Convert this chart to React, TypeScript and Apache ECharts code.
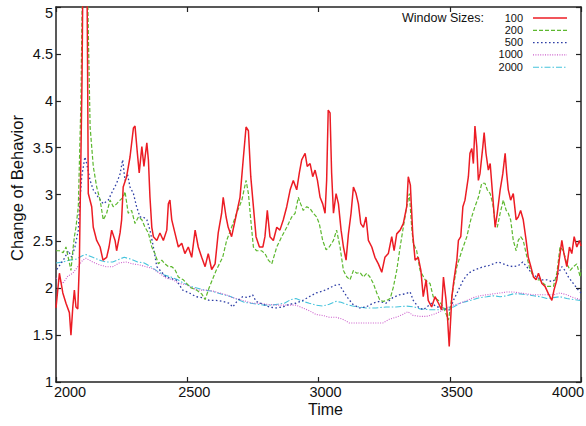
import React, { useEffect, useRef } from "react";
import * as echarts from "echarts";

const FONT = "'Liberation Sans', Arial, sans-serif";

const xTicks = [2000, 2500, 3000, 3500, 4000];
const yTicks = [1, 1.5, 2, 2.5, 3, 3.5, 4, 4.5, 5];
const windowSizes = ["100", "200", "500", "1000", "2000"];
const seriesColors = ["#ec1c24", "#5db82f", "#2e3fa6", "#cc5fcc", "#45c3dc"];

// Window size 100
const w100: [number, number][] = [
  [2000,1.79],[2013,2.16],[2026,1.95],[2038,1.84],[2051,1.74],[2057,1.50],[2064,1.80],[2070,1.98],[2076,1.80],[2083,1.78],
  [2089,2.27],[2099,4.2],[2107,6.8],[2114,6.8],[2120,4.5],[2123,3.01],[2136,2.87],[2142,2.65],[2155,2.51],[2168,2.44],
  [2179,2.30],[2193,2.33],[2202,2.44],[2212,2.62],[2225,2.51],[2231,2.40],[2244,2.59],[2250,2.73],[2256,3.08],[2269,3.19],
  [2282,3.40],[2295,3.71],[2301,3.73],[2310,3.44],[2317,3.23],[2327,3.51],[2335,3.30],[2346,3.55],[2352,3.37],[2358,2.97],
  [2365,2.65],[2371,2.55],[2384,2.51],[2396,2.59],[2409,2.51],[2422,2.62],[2428,2.90],[2434,2.94],[2441,2.73],[2453,2.59],
  [2466,2.44],[2479,2.48],[2491,2.37],[2504,2.44],[2517,2.33],[2530,2.62],[2542,2.44],[2555,2.33],[2568,2.23],[2580,2.37],
  [2593,2.20],[2606,2.26],[2618,2.59],[2631,2.80],[2637,2.97],[2648,2.76],[2656,2.65],[2669,2.55],[2688,2.80],[2701,2.97],
  [2714,3.40],[2724,3.72],[2733,3.68],[2742,3.19],[2752,2.87],[2762,2.55],[2775,2.44],[2788,2.44],[2796,2.55],[2805,2.83],
  [2815,2.55],[2828,2.51],[2841,2.65],[2853,2.62],[2866,2.73],[2879,2.87],[2892,3.05],[2904,3.15],[2917,3.05],[2927,3.23],
  [2936,3.37],[2949,3.44],[2957,3.30],[2968,3.33],[2978,3.19],[2987,3.26],[2996,3.15],[3006,2.97],[3016,2.90],[3025,2.80],
  [3031,3.15],[3037,3.90],[3044,3.87],[3050,3.23],[3057,2.80],[3067,3.01],[3076,2.90],[3086,2.62],[3095,2.44],[3105,2.30],
  [3114,2.58],[3124,2.80],[3133,3.08],[3143,3.01],[3152,2.90],[3161,2.69],[3171,2.65],[3181,2.76],[3190,2.51],[3203,2.44],
  [3215,2.33],[3228,2.26],[3241,2.17],[3253,2.33],[3266,2.37],[3279,2.55],[3288,2.40],[3298,2.58],[3311,2.62],[3323,2.69],
  [3336,2.87],[3342,3.19],[3350,3.10],[3359,2.58],[3368,2.30],[3380,2.33],[3390,2.19],[3399,1.91],[3410,2.09],[3418,1.87],
  [3431,1.80],[3444,1.91],[3457,1.84],[3469,1.77],[3476,2.12],[3486,1.87],[3492,1.66],[3498,1.38],[3508,1.91],[3516,2.09],
  [3527,2.30],[3533,2.51],[3542,2.55],[3550,2.87],[3558,2.94],[3571,3.19],[3577,3.44],[3584,3.49],[3590,3.33],[3596,3.73],
  [3603,3.51],[3609,3.15],[3615,3.22],[3626,3.51],[3631,3.66],[3638,3.44],[3647,3.26],[3654,3.33],[3664,2.97],[3673,2.65],
  [3681,2.80],[3692,3.05],[3702,3.22],[3711,3.44],[3717,3.22],[3723,3.05],[3732,2.94],[3742,3.01],[3753,2.73],[3761,2.76],
  [3770,2.83],[3780,2.73],[3791,2.51],[3799,2.33],[3809,2.23],[3819,2.12],[3829,2.09],[3838,2.16],[3851,2.05],[3863,2.02],
  [3876,1.94],[3889,1.87],[3897,1.98],[3908,2.09],[3917,2.30],[3927,2.51],[3935,2.37],[3946,2.23],[3956,2.44],[3965,2.37],
  [3974,2.55],[3984,2.44],[3994,2.51],[4000,2.45],
];

// Window size 200
const w200: [number, number][] = [
  [2000,2.40],[2013,2.40],[2027,2.38],[2038,2.44],[2051,2.27],[2057,2.19],[2064,2.40],[2070,2.55],[2076,2.65],[2085,2.87],
  [2095,4.0],[2102,5.6],[2110,6.5],[2118,5.6],[2124,4.6],[2130,3.72],[2142,3.30],[2155,3.08],[2168,2.94],[2180,2.73],
  [2193,2.80],[2206,2.94],[2218,2.87],[2231,2.90],[2244,2.94],[2256,2.97],[2263,3.03],[2275,2.80],[2288,2.83],[2301,2.69],
  [2314,2.76],[2327,2.73],[2339,2.65],[2352,2.59],[2365,2.44],[2377,2.37],[2390,2.26],[2403,2.30],[2415,2.26],[2428,2.23],
  [2441,2.23],[2453,2.20],[2466,2.12],[2485,2.09],[2511,2.01],[2536,1.98],[2555,1.94],[2568,1.88],[2584,2.01],[2610,2.19],
  [2635,2.33],[2650,2.51],[2669,2.65],[2688,2.80],[2708,2.94],[2724,3.15],[2733,3.01],[2742,2.73],[2752,2.44],[2764,2.40],
  [2783,2.40],[2796,2.37],[2809,2.30],[2822,2.26],[2841,2.44],[2860,2.55],[2879,2.65],[2898,2.76],[2911,2.80],[2923,2.97],
  [2932,2.90],[2942,2.83],[2955,2.87],[2968,2.85],[2980,2.80],[2993,2.76],[3003,2.69],[3016,2.51],[3029,2.41],[3041,2.44],
  [3057,2.51],[3069,2.62],[3082,2.44],[3095,2.19],[3108,2.12],[3120,2.09],[3133,2.19],[3146,2.16],[3158,2.17],[3171,2.12],
  [3184,2.16],[3196,2.12],[3209,2.05],[3222,1.95],[3234,1.87],[3247,1.86],[3260,1.87],[3273,1.89],[3285,2.01],[3298,2.19],
  [3311,2.44],[3323,2.65],[3336,2.87],[3346,3.01],[3355,2.65],[3361,2.48],[3374,2.40],[3387,2.19],[3406,2.09],[3425,2.05],
  [3437,1.91],[3457,1.87],[3476,1.80],[3495,1.66],[3501,1.77],[3514,2.02],[3527,2.23],[3546,2.40],[3565,2.55],[3580,2.73],
  [3596,2.87],[3609,2.97],[3622,3.12],[3634,3.12],[3643,3.05],[3654,3.01],[3664,2.90],[3673,2.69],[3681,2.65],[3692,2.80],
  [3704,2.94],[3715,2.83],[3723,2.80],[3732,2.73],[3742,2.51],[3753,2.40],[3761,2.51],[3770,2.55],[3780,2.51],[3791,2.37],
  [3803,2.23],[3819,2.12],[3831,2.09],[3844,2.09],[3857,2.05],[3870,2.02],[3882,2.02],[3895,2.02],[3908,2.16],[3920,2.44],
  [3933,2.40],[3946,2.26],[3959,2.19],[3971,2.23],[3984,2.26],[3997,2.12],[4000,2.20],
];

// Window size 500
const w500: [number, number][] = [
  [2003,2.20],[2028,2.30],[2047,2.40],[2060,2.33],[2072,2.44],[2085,2.62],[2091,2.94],[2098,3.19],[2110,3.40],[2117,3.33],
  [2130,3.15],[2142,3.05],[2161,2.97],[2180,2.90],[2199,2.94],[2218,3.05],[2231,3.12],[2244,3.22],[2254,3.37],[2263,3.15],
  [2272,3.22],[2282,3.08],[2295,3.01],[2307,2.87],[2320,2.76],[2333,2.76],[2346,2.73],[2358,2.62],[2371,2.44],[2384,2.23],
  [2419,2.12],[2457,2.09],[2483,1.98],[2508,1.95],[2533,1.91],[2559,1.90],[2584,1.87],[2610,1.87],[2635,1.86],[2660,1.84],
  [2673,1.80],[2692,1.87],[2711,1.91],[2730,1.90],[2749,1.93],[2762,1.86],[2788,1.83],[2813,1.80],[2838,1.79],[2864,1.80],
  [2889,1.83],[2914,1.84],[2940,1.87],[2965,1.91],[2991,1.95],[3016,1.97],[3041,2.00],[3060,2.03],[3079,2.04],[3092,1.98],
  [3111,1.90],[3130,1.83],[3156,1.79],[3181,1.80],[3207,1.84],[3232,1.86],[3257,1.84],[3283,1.90],[3308,1.93],[3330,1.94],
  [3349,1.96],[3361,1.87],[3380,1.80],[3399,1.77],[3412,1.80],[3431,1.84],[3450,1.80],[3469,1.80],[3488,1.77],[3501,1.77],
  [3514,1.87],[3533,1.98],[3552,2.09],[3571,2.16],[3590,2.19],[3609,2.21],[3628,2.23],[3647,2.24],[3666,2.26],[3685,2.28],
  [3704,2.26],[3723,2.24],[3742,2.23],[3761,2.24],[3778,2.28],[3793,2.23],[3812,2.16],[3831,2.12],[3851,2.09],[3870,2.09],
  [3889,2.07],[3901,2.09],[3914,2.16],[3927,2.23],[3939,2.19],[3952,2.12],[3971,2.05],[3990,1.98],[4000,1.95],
];

// Window size 1000
const w1000: [number, number][] = [
  [2000,2.11],[2026,2.05],[2045,2.13],[2064,2.16],[2083,2.23],[2102,2.30],[2114,2.32],[2140,2.28],[2165,2.25],[2191,2.23],
  [2216,2.23],[2241,2.27],[2267,2.28],[2292,2.26],[2317,2.25],[2343,2.23],[2368,2.21],[2394,2.16],[2419,2.11],[2445,2.09],
  [2470,2.05],[2495,2.04],[2521,2.00],[2546,1.98],[2572,1.98],[2597,1.97],[2622,1.95],[2648,1.93],[2673,1.90],[2698,1.88],
  [2724,1.86],[2749,1.84],[2775,1.84],[2800,1.83],[2838,1.82],[2876,1.82],[2914,1.82],[2940,1.79],[2965,1.76],[2991,1.72],
  [3016,1.71],[3041,1.69],[3067,1.69],[3092,1.67],[3117,1.63],[3143,1.63],[3181,1.63],[3219,1.63],[3245,1.63],[3270,1.67],
  [3295,1.69],[3321,1.72],[3340,1.75],[3361,1.71],[3387,1.70],[3412,1.70],[3437,1.72],[3463,1.75],[3488,1.79],[3514,1.82],
  [3539,1.84],[3565,1.87],[3590,1.90],[3615,1.92],[3641,1.93],[3666,1.94],[3692,1.95],[3717,1.96],[3742,1.96],[3768,1.95],
  [3793,1.94],[3819,1.93],[3844,1.93],[3870,1.93],[3895,1.93],[3920,1.95],[3946,1.93],[3971,1.90],[3997,1.88],
];

// Window size 2000
const w2000: [number, number][] = [
  [2000,2.27],[2026,2.28],[2051,2.30],[2076,2.31],[2102,2.35],[2114,2.36],[2140,2.33],[2165,2.30],[2191,2.28],[2216,2.28],
  [2241,2.31],[2260,2.33],[2286,2.31],[2311,2.28],[2336,2.27],[2362,2.23],[2387,2.18],[2413,2.14],[2438,2.12],[2464,2.09],
  [2489,2.05],[2514,2.02],[2540,2.00],[2565,1.98],[2591,1.97],[2616,1.95],[2641,1.93],[2667,1.91],[2692,1.88],[2717,1.85],
  [2743,1.84],[2768,1.83],[2794,1.82],[2819,1.82],[2845,1.83],[2870,1.84],[2895,1.88],[2914,1.89],[2940,1.86],[2965,1.84],
  [2991,1.82],[3016,1.81],[3041,1.83],[3067,1.86],[3086,1.85],[3105,1.83],[3130,1.81],[3156,1.80],[3181,1.79],[3219,1.79],
  [3257,1.80],[3295,1.80],[3334,1.81],[3365,1.80],[3387,1.78],[3425,1.77],[3463,1.77],[3495,1.79],[3514,1.80],[3539,1.84],
  [3565,1.86],[3590,1.88],[3615,1.90],[3641,1.91],[3666,1.92],[3692,1.91],[3717,1.92],[3742,1.94],[3768,1.94],[3793,1.93],
  [3819,1.92],[3844,1.91],[3870,1.89],[3895,1.90],[3920,1.91],[3946,1.89],[3971,1.88],[3997,1.87],
];

const seriesData = [w100, w200, w500, w1000, w2000];
const dashes: (number[] | "solid")[] = ["solid", [4, 2], [1.6, 2.4], [1, 1.4], [6, 2, 1.5, 2]];
const widths = [1.5, 1.2, 1.3, 1.1, 1.1];

export default function App() {
  const ref = useRef<HTMLDivElement>(null);
  useEffect(() => {
    if (!ref.current) return;
    const chart = echarts.init(ref.current, undefined, { renderer: "svg" });
    const axisLine = { show: true, lineStyle: { color: "#222", width: 1.5 } };
    const axisTick = { show: true, inside: true, length: 5, lineStyle: { color: "#222", width: 1.2 } };
    const labelStyle = { fontFamily: FONT, fontSize: 14.5, color: "#111" };

    const legendGraphics: any[] = [
      {
        type: "text",
        x: 402,
        y: 17.5,
        style: { text: "Window Sizes:", font: `12.5px ${FONT}`, fill: "#111", verticalAlign: "middle", align: "left" },
      },
    ];
    const rowY = [17.5, 29.8, 42.1, 54.4, 66.7];
    windowSizes.forEach((w, i) => {
      legendGraphics.push({
        type: "text",
        x: 523,
        y: rowY[i],
        style: { text: w, font: `11px ${FONT}`, fill: "#111", verticalAlign: "middle", align: "right" },
      });
      legendGraphics.push({
        type: "line",
        shape: { x1: 533, y1: rowY[i] + 0.5, x2: 567, y2: rowY[i] + 0.5 },
        style: {
          stroke: seriesColors[i],
          lineWidth: widths[i],
          lineDash: dashes[i] === "solid" ? null : (dashes[i] as number[]),
        },
      });
    });

    const order = [4, 3, 2, 1, 0];
    chart.setOption({
      animation: false,
      backgroundColor: "#ffffff",
      grid: { left: 56, right: 5, top: 7, bottom: 44, containLabel: false, outerBoundsMode: "none" },
      xAxis: [
        {
          type: "value",
          min: xTicks[0],
          max: xTicks[xTicks.length - 1],
          interval: 500,
          position: "bottom",
          axisLine,
          axisTick,
          splitLine: { show: false },
          name: "Time",
          nameLocation: "middle",
          nameGap: 19,
          nameMoveOverlap: false,
          nameTextStyle: { fontFamily: FONT, fontSize: 16, color: "#111", padding: [0, 0, 0, 14] },
          axisLabel: {
            margin: 2,
            ...labelStyle,
            formatter: (v: number) =>
              v === xTicks[0] ? `{a|${v}}` : v === xTicks[xTicks.length - 1] ? `{c|${v}}` : `{b|${v}}`,
            rich: {
              a: { ...labelStyle, padding: [0, 0, 0, 28] },
              b: { ...labelStyle, padding: [0, 0, 0, 14] },
              c: { ...labelStyle, padding: [0, 26, 0, 0] },
            },
          },
        },
        {
          type: "value",
          min: xTicks[0],
          max: xTicks[xTicks.length - 1],
          interval: 500,
          position: "top",
          axisLine,
          axisTick,
          axisLabel: { show: false },
          splitLine: { show: false },
        },
      ],
      yAxis: [
        {
          type: "value",
          min: yTicks[0],
          max: yTicks[yTicks.length - 1],
          interval: 0.5,
          position: "left",
          axisLine,
          axisTick,
          splitLine: { show: false },
          axisLabel: {
            margin: 3,
            ...labelStyle,
            formatter: (v: number) => (v === yTicks[yTicks.length - 1] ? `{t|${v}}` : `{n|${v}}`),
            rich: {
              t: { ...labelStyle, padding: [12, 0, 0, 0] },
              n: { ...labelStyle },
            },
          },
          name: "Change of Behavior",
          nameLocation: "middle",
          nameGap: 31,
          nameMoveOverlap: false,
          nameTextStyle: { fontFamily: FONT, fontSize: 16.5, color: "#111", padding: [0, 0, 0, 13] },
        },
        {
          type: "value",
          min: yTicks[0],
          max: yTicks[yTicks.length - 1],
          interval: 0.5,
          position: "right",
          axisLine,
          axisTick,
          axisLabel: { show: false },
          splitLine: { show: false },
        },
      ],
      graphic: legendGraphics,
      series: order.map((i) => ({
        type: "line",
        name: windowSizes[i],
        data: seriesData[i],
        xAxisIndex: 0,
        yAxisIndex: 0,
        showSymbol: false,
        symbol: "none",
        clip: true,
        silent: true,
        lineStyle: { color: seriesColors[i], width: widths[i], type: dashes[i] },
        z: 2 + (4 - i),
      })),
    });
    return () => chart.dispose();
  }, []);
  return (
    <div
      ref={ref}
      style={{ position: "fixed", left: 0, top: 0, width: 586, height: 426, background: "#fff" }}
    />
  );
}
